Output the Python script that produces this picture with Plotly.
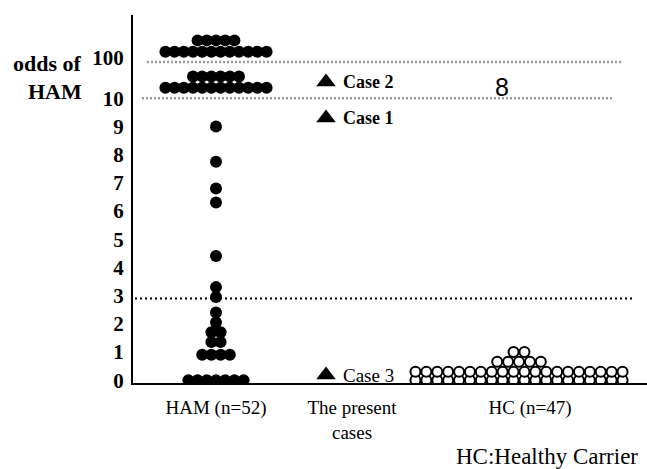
import math
import plotly.graph_objects as go

# ---------------- data ----------------
categories = ["HAM (n=52)", "The present<br>cases", "HC (n=47)"]

# odds of HAM for each HAM patient (100 = ">=100" band, 10 = ">=10" band)
ham_odds = [100, 100, 100, 100, 100, 100, 100, 100, 100, 100, 100, 100,
            100, 100, 100, 100, 100,
            10, 10, 10, 10, 10, 10, 10, 10, 10, 10, 10, 10,
            10, 10, 10, 10, 10, 10,
            9.0, 7.75, 6.8, 6.3, 4.4, 3.3, 2.95, 2.4, 2.05,
            1.7, 1.7, 1.35, 1.35, 0.9, 0.9, 0.9, 0.9,
            0, 0, 0, 0, 0, 0, 0]

# healthy carriers (stacked rows of the dot plot)
hc_odds = [0, 0, 0, 0, 0, 0, 0, 0, 0, 0, 0, 0, 0, 0, 0, 0, 0, 0, 0, 0,
           0.3, 0.3, 0.3, 0.3, 0.3, 0.3, 0.3, 0.3, 0.3, 0.3,
           0.3, 0.3, 0.3, 0.3, 0.3, 0.3, 0.3, 0.3, 0.3, 0.3,
           0.65, 0.65, 0.65, 0.65, 0.65,
           1.0, 1.0]

case_names = ["Case 1", "Case 2", "Case 3"]
case_odds = [9.3, 28, 0.18]

y_tick_labels = ["0", "1", "2", "3", "4", "5", "6", "7", "8", "9", "10", "100"]
y_tick_odds = [0, 1, 2, 3, 4, 5, 6, 7, 8, 9, 10, 100]
cutoff_odds = 2.9

# ---------------- layout helpers ----------------
W, H = 647, 469
ML, MR, MT, MB = 133, 0, 15, 86
PW = W - ML - MR
PH = H - MT - MB

def to_pos(v):
    """broken scale: linear up to 10, compressed log above"""
    if v <= 10:
        return v
    return 10 + 1.28 * math.log10(v / 10.0)

col_x = {"HAM": 83, "CASE": 193, "HC": 386}
tick_x = [83, 219, 397]

def stack(values, cx, spacing, max_row=12, lift=0.37, row_step=0.4):
    xs, ys = [], []
    groups = {}
    order = []
    for v in values:
        if v not in groups:
            groups[v] = 0
            order.append(v)
        groups[v] += 1
    for v in order:
        n = groups[v]
        base = to_pos(v)
        if v >= 10:
            rows = []
            rem = n
            while rem > 0:
                k = min(max_row, rem)
                rows.append(k)
                rem -= k
            for r, k in enumerate(rows):
                for i in range(k):
                    xs.append(cx + (i - (k - 1) / 2) * spacing)
                    ys.append(base + lift + r * row_step)
        else:
            for i in range(n):
                xs.append(cx + (i - (n - 1) / 2) * spacing)
                ys.append(base)
    return xs, ys

ham_x, ham_y = stack(ham_odds, col_x["HAM"], 9.2)
hc_x, hc_y = stack(hc_odds, col_x["HC"], 10.9)

SERIF = "Liberation Serif, Times New Roman, serif"

def px_to_paper_x(px):
    return (px - ML) / PW

def px_to_paper_y(py):
    return (H - MB - py) / PH

fig = go.Figure()

# reference lines
fig.add_shape(type="line", x0=14, x1=488, y0=to_pos(100), y1=to_pos(100),
              line=dict(color="#9a9a9a", width=2.5, dash="2px,2px"), layer="below")
fig.add_shape(type="line", x0=9, x1=480, y0=to_pos(10), y1=to_pos(10),
              line=dict(color="#9a9a9a", width=2.5, dash="2px,2px"), layer="below")
fig.add_shape(type="line", x0=2, x1=499, y0=cutoff_odds, y1=cutoff_odds,
              line=dict(color="black", width=2, dash="2px,3px"), layer="below")

fig.add_trace(go.Scatter(
    x=ham_x, y=ham_y, mode="markers",
    marker=dict(size=12, color="black", line=dict(width=0)),
    showlegend=False, hoverinfo="skip"))

fig.add_trace(go.Scatter(
    x=hc_x, y=hc_y, mode="markers",
    marker=dict(size=10, color="white", line=dict(width=2, color="black")),
    showlegend=False, hoverinfo="skip"))

case_pos = [to_pos(v) for v in case_odds]
fig.add_trace(go.Scatter(
    x=[col_x["CASE"]] * len(case_odds), y=case_pos, mode="markers",
    marker=dict(symbol="triangle-up", size=17, color="black"),
    showlegend=False, hoverinfo="skip"))

for name, p in zip(case_names, case_pos):
    bold = name != "Case 3"
    fig.add_annotation(x=col_x["CASE"] + 15, y=p, xref="x", yref="y",
                       text=("<b>%s</b>" % name) if bold else name,
                       showarrow=False, xanchor="left", yanchor="middle",
                       font=dict(family=SERIF, size=18 if bold else 19, color="black"))

# the "8" mark in the HC column
fig.add_annotation(x=369, y=10.39, xref="x", yref="y", text="8", showarrow=False,
                   font=dict(family="Liberation Sans, Arial, sans-serif", size=25, color="black"),
                   xanchor="center", yanchor="middle")

# y-axis title (two lines placed separately)
fig.add_annotation(x=px_to_paper_x(83), y=px_to_paper_y(64), xref="paper", yref="paper",
                   text="<b>odds of</b>", showarrow=False, borderpad=0,
                   xanchor="right", yanchor="middle",
                   font=dict(family=SERIF, size=22, color="black"))
fig.add_annotation(x=px_to_paper_x(83), y=px_to_paper_y(91), xref="paper", yref="paper",
                   text="<b>HAM</b>", showarrow=False, borderpad=0,
                   xanchor="right", yanchor="middle",
                   font=dict(family=SERIF, size=22, color="black"))

# footnote
fig.add_annotation(x=px_to_paper_x(547), y=px_to_paper_y(470), xref="paper", yref="paper",
                   text="HC:Healthy Carrier", showarrow=False, borderpad=0,
                   xanchor="center", yanchor="bottom",
                   font=dict(family=SERIF, size=23, color="black"))

y_tick_vals = [to_pos(v) for v in y_tick_odds]
y_tick_vals[-1] = 11.45

fig.update_layout(
    width=W, height=H,
    margin=dict(l=ML, r=MR, t=MT, b=MB, pad=0),
    paper_bgcolor="white", plot_bgcolor="white",
    xaxis=dict(range=[0, PW], showgrid=False, zeroline=False,
               showline=True, linecolor="black", linewidth=2,
               tickvals=tick_x, ticktext=categories, ticks="",
               ticklabelstandoff=6,
               tickfont=dict(family=SERIF, size=19, color="black"),
               fixedrange=True),
    yaxis=dict(range=[-0.1, 12.95], showgrid=False, zeroline=False,
               showline=True, linecolor="black", linewidth=2,
               tickvals=y_tick_vals, ticktext=y_tick_labels, ticks="",
               ticklabelstandoff=3,
               tickfont=dict(family=SERIF, size=21, color="black", weight="bold"),
               fixedrange=True),
)

fig.write_html("out.html", config={"displayModeBar": False},
               post_script="document.body.style.margin='0';")
